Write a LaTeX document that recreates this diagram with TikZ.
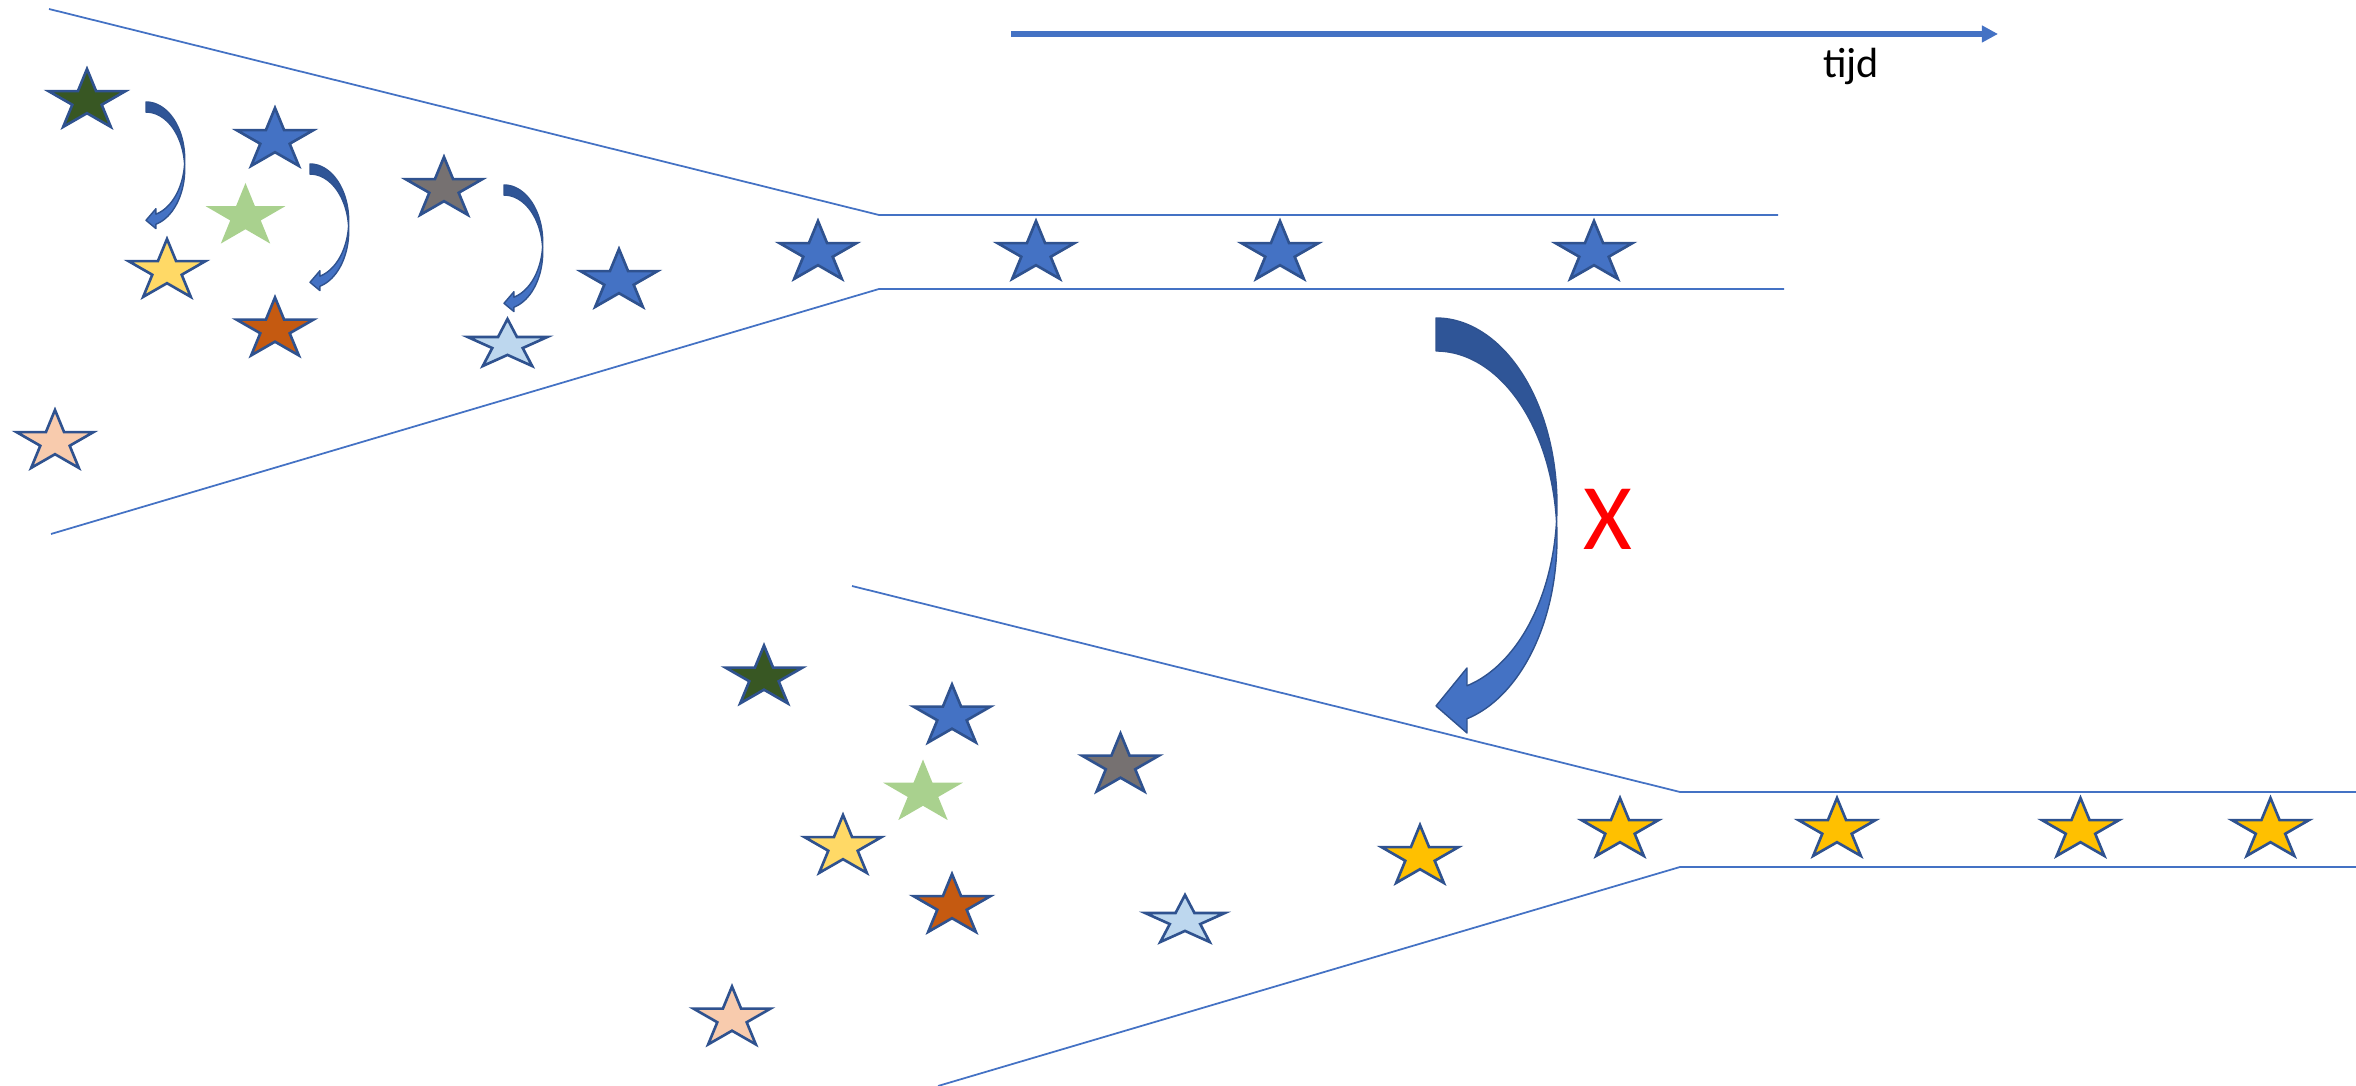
\documentclass[tikz,border=0pt]{standalone}
\usepackage{fontspec}
\setmainfont{Carlito}
\usetikzlibrary{arrows.meta}
\definecolor{cdgreen}{HTML}{385723}
\definecolor{cblue}{HTML}{4472C4}
\definecolor{clgreen}{HTML}{A9D18E}
\definecolor{cyellow}{HTML}{FFD966}
\definecolor{cbrown}{HTML}{C55A11}
\definecolor{cgray}{HTML}{767171}
\definecolor{clblue}{HTML}{BDD7EE}
\definecolor{cbeige}{HTML}{F8CBAD}
\definecolor{cgold}{HTML}{FFC000}
\definecolor{cline}{HTML}{2F528F}
\definecolor{carrdark}{HTML}{2F5597}
\definecolor{carrlight}{HTML}{4472C4}
\definecolor{cfunnel}{HTML}{4472C4}
\tikzset{
  pics/ppstar/.style 2 args={code={%
    \path[pic actions] (0,-#2) -- ({0.2245*#1},{-0.309*#2}) -- ({0.951*#1},{-0.309*#2})
      -- ({0.363*#1},{0.118*#2}) -- ({0.588*#1},{0.809*#2}) -- (0,{0.382*#2})
      -- ({-0.588*#1},{0.809*#2}) -- ({-0.363*#1},{0.118*#2}) -- ({-0.951*#1},{-0.309*#2})
      -- ({-0.2245*#1},{-0.309*#2}) -- cycle;
  }},
  pics/curvarrow/.style={code={%
    \path[fill=carrdark, draw=cline, line width=0.4pt, line join=round]
      plot[domain=90:-5.05, samples=60, variable=\t] ({121*cos(\t)},{187-187*sin(\t)})
      -- plot[domain=5.05:90, samples=60, variable=\t] ({121*cos(\t)},{220-187*sin(\t)}) -- cycle;
    \path[fill=carrlight, draw=cline, line width=0.4pt, line join=round]
      plot[domain=-5.05:-75.16, samples=60, variable=\t] ({121*cos(\t)},{187-187*sin(\t)})
      -- (31,350) -- (0,388) -- (31,415)
      -- plot[domain=-75.16:5.05, samples=60, variable=\t] ({121*cos(\t)},{220-187*sin(\t)}) -- cycle;
  }},
  smallarrow/.style={xscale=0.32, yscale=0.305},
  starline/.style={draw=cline, line width=0.75pt, miter limit=10},
  funnel/.style={draw=cfunnel, line width=0.5pt},
  timearrow/.style={draw=cblue, line width=1.7pt, -{Triangle[length=4.6pt,width=4.6pt]}},
}
\begin{document}
\begin{tikzpicture}[x={(0.01cm,0)}, y={(0,-0.01cm)}]
\useasboundingbox (0,0) rectangle (2356,1086);

% funnels
\coordinate (fa1) at (49,9);
\coordinate (fa2) at (879,215);
\coordinate (fa3) at (1778,215);
\coordinate (fb1) at (51,534);
\coordinate (fb2) at (879,289);
\coordinate (fb3) at (1784,289);
\draw[funnel] (fa1) -- (fa2) -- (fa3);
\draw[funnel] (fb1) -- (fb2) -- (fb3);
\coordinate (ga1) at (852,586);
\coordinate (ga2) at (1680,792);
\coordinate (ga3) at (2356,792);
\coordinate (gb1) at (938,1086);
\coordinate (gb2) at (1680,867);
\coordinate (gb3) at (2356,867);
\draw[funnel] (ga1) -- (ga2) -- (ga3);
\draw[funnel] (gb1) -- (gb2) -- (gb3);

% time axis
\coordinate (t0) at (1011,34);
\coordinate (t1) at (1998,34);
\draw[timearrow] (t0) -- (t1);
\node[anchor=base, inner sep=0pt, font=\fontsize{12}{14}\selectfont] (tijd) at (1851,78) {tijd};

% top cluster
\pic[fill=cdgreen, starline] (ta) at (87,101) {ppstar={40.5}{32}};
\pic[fill=cblue, starline] (tb) at (275,140) {ppstar={40.5}{32}};
\pic[fill=clgreen] (tc) at (245.5,216.5) {ppstar={42}{33.5}};
\pic[fill=cyellow, starline] (td) at (167,271) {ppstar={40.5}{32}};
\pic[fill=cbrown, starline] (te) at (275,329.5) {ppstar={40.5}{32}};
\pic[fill=cgray, starline] (tf) at (444,189) {ppstar={40.5}{32}};
\pic[fill=clblue, starline] (tg) at (507.5,345) {ppstar={42}{26}};
\pic[fill=cblue, starline] (th) at (619,281) {ppstar={40.5}{32}};
\pic[fill=cbeige, starline] (ti) at (55,442) {ppstar={40.5}{32}};
% top row
\pic[fill=cblue, starline] (r1) at (818,253) {ppstar={40.5}{32}};
\pic[fill=cblue, starline] (r2) at (1036,253) {ppstar={40.5}{32}};
\pic[fill=cblue, starline] (r3) at (1280,253) {ppstar={40.5}{32}};
\pic[fill=cblue, starline] (r4) at (1594,253) {ppstar={40.5}{32}};

% small curved arrows
\pic[smallarrow] (ca1) at (146,102) {curvarrow};
\pic[smallarrow] (ca2) at (310,164) {curvarrow};
\pic[smallarrow] (ca3) at (504,185) {curvarrow};

% big curved arrow
\pic (cbig) at (1436,318) {curvarrow};
\node[anchor=base, inner sep=0pt, text=red, font=\fontsize{26.7}{30}\selectfont] (xmark) at (1608,550) {X};

% bottom cluster
\pic[fill=cdgreen, starline] (ba) at (764,677.5) {ppstar={40.5}{32}};
\pic[fill=cblue, starline] (bb) at (952,716.5) {ppstar={40.5}{32}};
\pic[fill=clgreen] (bc) at (923,793) {ppstar={42}{33.5}};
\pic[fill=cgray, starline] (bf) at (1120.5,765.5) {ppstar={40.5}{32}};
\pic[fill=cyellow, starline] (bd) at (843,847) {ppstar={40.5}{32}};
\pic[fill=cbrown, starline] (be) at (952,906) {ppstar={40.5}{32}};
\pic[fill=clblue, starline] (bg) at (1185,921) {ppstar={42}{26}};
\pic[fill=cbeige, starline] (bi) at (732,1018.5) {ppstar={40.5}{32}};
% gold row
\pic[fill=cgold, starline] (g1) at (1420,857) {ppstar={40.5}{32}};
\pic[fill=cgold, starline] (g2) at (1620,830) {ppstar={40.5}{32}};
\pic[fill=cgold, starline] (g3) at (1837,830) {ppstar={40.5}{32}};
\pic[fill=cgold, starline] (g4) at (2080.5,830) {ppstar={40.5}{32}};
\pic[fill=cgold, starline] (g5) at (2270.5,830) {ppstar={40.5}{32}};
\end{tikzpicture}
\end{document}
